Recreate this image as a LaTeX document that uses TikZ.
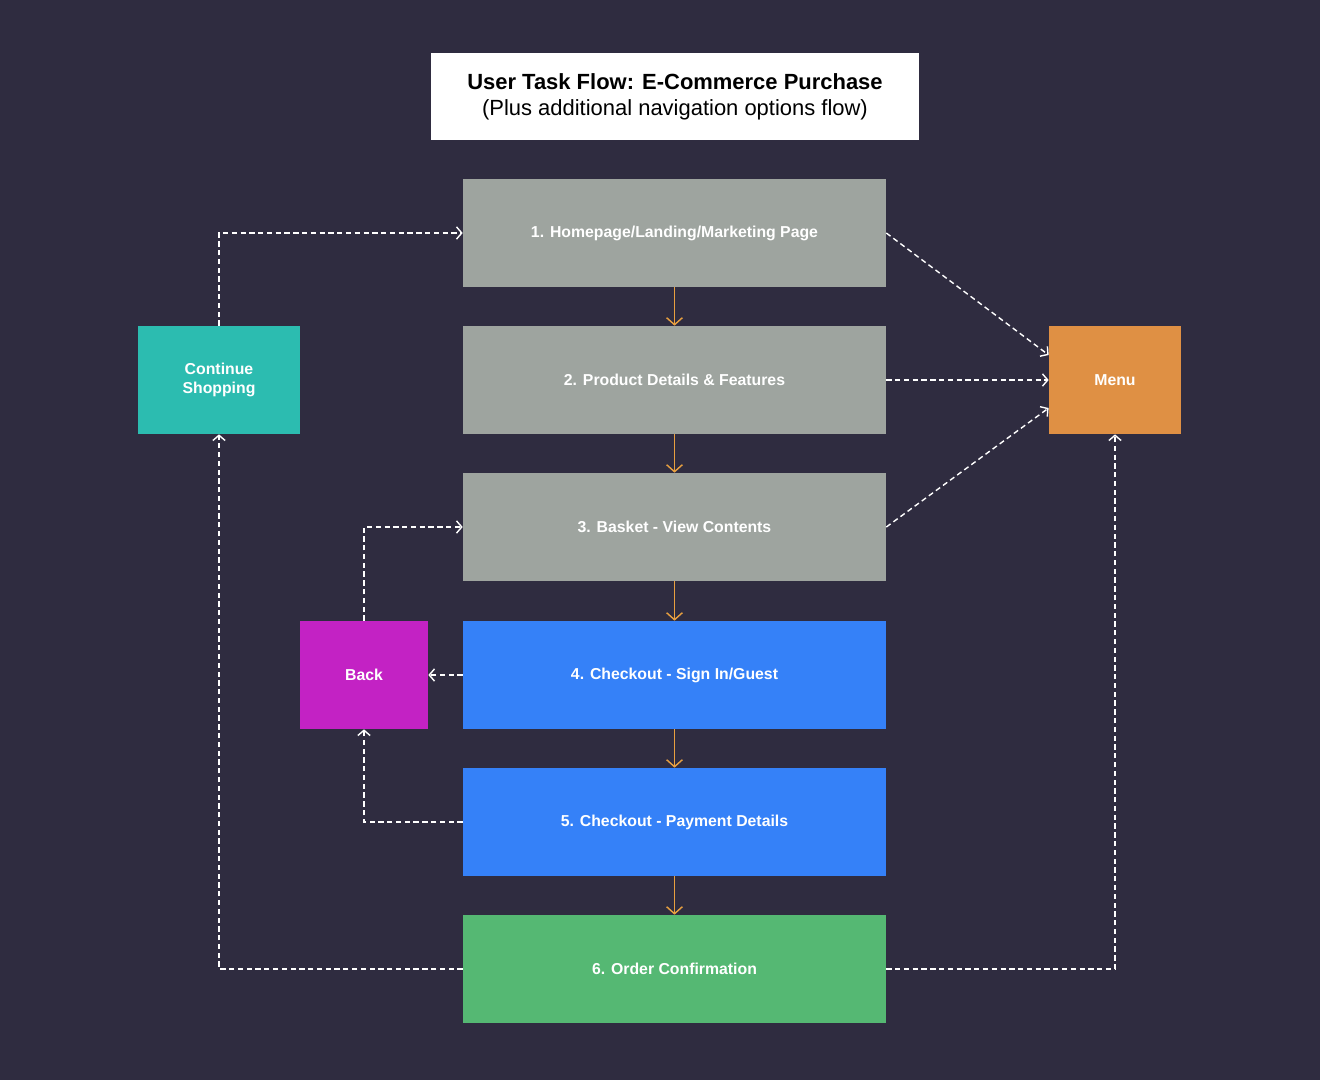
\documentclass[tikz,border=0pt]{standalone}
\usepackage{fontspec}
\setmainfont{Liberation Sans}
\usetikzlibrary{arrows.meta}
\definecolor{bgc}{HTML}{2F2C40}
\definecolor{grayc}{HTML}{9EA49F}
\definecolor{bluec}{HTML}{3581F8}
\definecolor{greenc}{HTML}{55B873}
\definecolor{tealc}{HTML}{2CBCB0}
\definecolor{magc}{HTML}{C322C4}
\definecolor{orc}{HTML}{DF9044}
\definecolor{arrc}{HTML}{E8A040}
\begin{document}
\begin{tikzpicture}[x=0.02cm,y=-0.02cm]
		\tikzset{stage/.style = {draw=none,minimum width=8.46cm,minimum height=2.16cm,text=white,font=\bfseries\fontsize{9}{11}\selectfont,align=center}}
		\tikzset{flow/.style = {-{Straight Barb[length=4pt,width=9pt]},arrc,thick}}
		\tikzset{nav/.style = {-{Straight Barb[length=3pt,width=7pt]},white,densely dashed,thick}}
		\fill[bgc] (0,0) rectangle (1320,1080);
		\node[fill=white,minimum width=9.76cm,minimum height=1.74cm,align=center,font=\fontsize{12.5}{15}\selectfont] (title) at (675,96.5) {\textbf{User Task Flow: E-Commerce Purchase}\\(Plus additional navigation options flow)};
		\node[stage,fill=grayc] (s1) at (674.5,233) {1. Homepage/Landing/Marketing Page};
		\node[stage,fill=grayc] (s2) at (674.5,380) {2. Product Details \& Features};
		\node[stage,fill=grayc] (s3) at (674.5,527) {3. Basket - View Contents};
		\node[stage,fill=bluec] (s4) at (674.5,675) {4. Checkout - Sign In/Guest};
		\node[stage,fill=bluec] (s5) at (674.5,822) {5. Checkout - Payment Details};
		\node[stage,fill=greenc] (s6) at (674.5,969) {6. Order Confirmation};
		\node[stage,fill=tealc,minimum width=3.24cm] (cont) at (219,380) {Continue\\Shopping};
		\node[stage,fill=magc,minimum width=2.56cm] (back) at (364,675) {Back};
		\node[stage,fill=orc,minimum width=2.64cm] (menu) at (1115,380) {Menu};
		\foreach \a/\b in {s1/s2,s2/s3,s3/s4,s4/s5,s5/s6}
			\draw[flow] (\a.south) -- (\b.north);
		\draw[nav] (cont.north) |- (s1.west);
		\draw[nav] (s1.east) -- (menu.west |- 0,355);
		\draw[nav] (s2.east) -- (menu.west);
		\draw[nav] (s3.east) -- (menu.west |- 0,408);
		\draw[nav] (s4.west) -- (back.east);
		\draw[nav] (back.north) |- (s3.west);
		\draw[nav] (s5.west) -| (back.south);
		\draw[nav] (s6.west) -| (cont.south);
		\draw[nav] (s6.east) -| (menu.south);
	\end{tikzpicture}
\end{document}
